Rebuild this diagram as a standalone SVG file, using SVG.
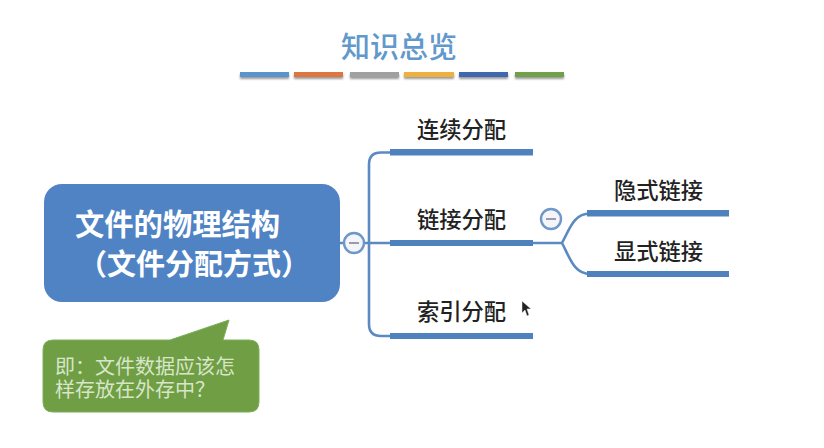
<svg xmlns="http://www.w3.org/2000/svg" width="824" height="448" viewBox="0 0 824 448">
<defs>
<filter id="soft" x="-10%" y="-100%" width="120%" height="300%"><feGaussianBlur stdDeviation="1.2"/></filter>
</defs>
<style>
text{font-family:"Noto Sans CJK SC","Noto Sans",sans-serif}
.lab{font-size:22.300px;font-weight:500;fill:#222;text-anchor:middle}
.bar{fill:#4f81bd}
.conn{fill:none;stroke:#5b8ac2;stroke-width:2.6}
.tog{fill:#f3f5f9;stroke:#6f97c8;stroke-width:2.4}
.minus{stroke:#9a9ab0;stroke-width:2}
</style>
<rect width="824" height="448" fill="#fff"/>
<g id="title">
<text x="399" y="58" font-size="29" font-weight="500" fill="#6298cb" text-anchor="middle">知识总览</text>
</g>
<g id="underlines">
<rect x="240" y="74" width="49" height="5" fill="#999" filter="url(#soft)"/>
<rect x="294" y="74" width="49" height="5" fill="#999" filter="url(#soft)"/>
<rect x="350" y="74" width="49" height="5" fill="#999" filter="url(#soft)"/>
<rect x="404" y="74" width="50" height="5" fill="#999" filter="url(#soft)"/>
<rect x="459" y="74" width="49" height="5" fill="#999" filter="url(#soft)"/>
<rect x="515" y="74" width="49" height="5" fill="#999" filter="url(#soft)"/>
<rect x="240" y="72" width="49" height="5" fill="#5b94cc"/>
<rect x="294" y="72" width="49" height="5" fill="#dd7640"/>
<rect x="350" y="72" width="49" height="5" fill="#a0a0a0"/>
<rect x="404" y="72" width="50" height="5" fill="#f0b040"/>
<rect x="459" y="72" width="49" height="5" fill="#3f68ae"/>
<rect x="515" y="72" width="49" height="5" fill="#70a04a"/>
</g>
<g id="connectors">
<path class="conn" d="M340 243H390M392 152.500H381Q369 152.500 369 164.500V324Q369 336 381 336H392M533 243H562"/>
<path class="conn" d="M562 243C570 228 574 213.500 590 213.500M562 243C570 258 574 274 590 274"/>
</g>
<g id="root">
<rect x="44" y="184" width="296" height="118" rx="18" fill="#5083c4"/>
<text x="75" y="235" font-size="29.300" font-weight="700" fill="#fff">文件的物理结构</text>
<text x="78" y="275" font-size="29" font-weight="700" fill="#fff">（文件分配方式）</text>
</g>
<g id="toggle-root"><circle class="tog" cx="354" cy="243" r="10"/><path class="minus" d="M349 243H359"/></g>
<g id="toggle-link"><circle class="tog" cx="551" cy="219" r="10"/><path class="minus" d="M546 219H556"/></g>
<g id="note">
<path d="M53 340H170L229 320L223 340H249Q259 340 259 350V402Q259 412 249 412H53Q43 412 43 402V350Q43 340 53 340Z" fill="#6f9e45" stroke="#7fae5a" stroke-width="1"/>
<text x="55" y="374" font-size="20" fill="#d8e6c8">即：文件数据应该怎</text>
<text x="55" y="397" font-size="20" fill="#d8e6c8">样存放在外存中？</text>
</g>
<g id="n1"><text class="lab" x="461.500" y="138">连续分配</text><rect class="bar" x="390" y="149" width="143" height="6.500"/></g>
<g id="n2"><text class="lab" x="461.500" y="228">链接分配</text><rect class="bar" x="390" y="240" width="143" height="6"/></g>
<g id="n3"><text class="lab" x="461.500" y="320">索引分配</text><rect class="bar" x="390" y="333" width="143" height="6"/></g>
<g id="n4"><text class="lab" x="658.500" y="199">隐式链接</text><rect class="bar" x="587" y="210" width="142" height="6.500"/></g>
<g id="n5"><text class="lab" x="658.500" y="260">显式链接</text><rect class="bar" x="587" y="271" width="142" height="6"/></g>
<path id="cursor" d="M522 301V313L525 310L527 316L529 315L527 309L531 309Z" fill="#222" stroke="#eee" stroke-width=".5"/>
</svg>
